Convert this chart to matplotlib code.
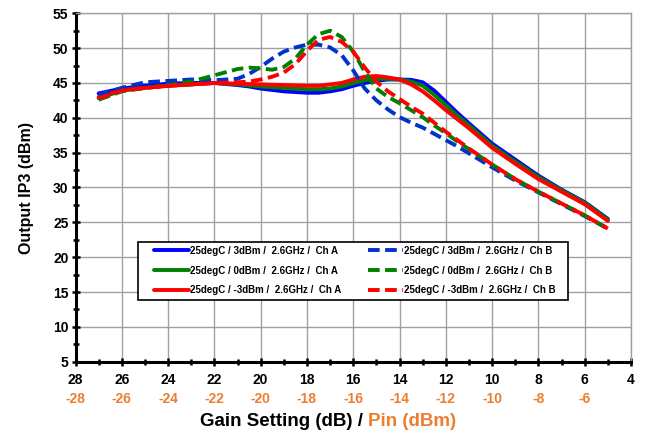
import numpy as np
import matplotlib
matplotlib.use("Agg")
import matplotlib.pyplot as plt
from matplotlib.ticker import MultipleLocator
from matplotlib.patches import Rectangle

plt.rcParams['font.family'] = ['Liberation Sans', 'DejaVu Sans']
plt.rcParams['font.weight'] = 'bold'

# Gain setting (dB)
gain = [27, 26, 25, 24, 23, 22, 21, 20.5, 20, 19.5, 19, 18.5, 18, 17.5, 17, 16.5,
        16, 15.5, 15, 14.5, 14, 13.5, 13, 12.5, 12, 11.5, 11, 10, 9, 8, 7, 6, 5]

# Channel A (solid)
a_3dbm = [43.5, 44.2, 44.6, 44.9, 45.0, 45.0, 44.7, 44.5, 44.2, 44.0, 43.8, 43.7, 43.6, 43.6, 43.8, 44.1,
          44.6, 45.0, 45.3, 45.5, 45.5, 45.45, 45.1, 43.9, 42.3, 40.7, 39.2, 36.3, 34.0, 31.7, 29.7, 27.9, 25.5]
a_0dbm = [42.8, 43.9, 44.3, 44.6, 44.8, 45.0, 44.8, 44.65, 44.5, 44.4, 44.3, 44.2, 44.1, 44.1, 44.2, 44.5,
          45.0, 45.4, 45.6, 45.6, 45.5, 45.2, 44.6, 43.3, 41.8, 40.3, 38.9, 36.0, 33.7, 31.5, 29.6, 27.8, 25.4]
a_m3dbm = [43.0, 44.0, 44.3, 44.6, 44.8, 45.0, 44.9, 44.85, 44.8, 44.75, 44.7, 44.65, 44.6, 44.6, 44.8, 45.0,
           45.5, 45.9, 46.0, 45.8, 45.5, 44.8, 43.8, 42.5, 41.1, 39.8, 38.5, 35.7, 33.4, 31.2, 29.4, 27.6, 25.2]

# Channel B (dashed)
b_3dbm = [43.3, 44.3, 45.1, 45.3, 45.5, 45.4, 45.6, 46.3, 47.3, 48.5, 49.5, 50.1, 50.5, 50.5, 50.1, 49.0,
          46.8, 44.2, 42.5, 41.2, 40.1, 39.3, 38.6, 37.7, 36.8, 35.9, 34.9, 32.9, 31.0, 29.3, 27.6, 25.9, 24.1]
b_0dbm = [42.6, 43.8, 44.3, 44.7, 45.2, 46.1, 47.0, 47.2, 47.1, 46.9, 47.3, 48.5, 50.5, 52.0, 52.5, 51.6,
          49.5, 46.6, 44.2, 43.0, 42.1, 41.1, 40.1, 38.9, 37.8, 36.6, 35.5, 33.3, 31.2, 29.4, 27.7, 26.0, 24.1]
b_m3dbm = [42.8, 43.9, 44.3, 44.6, 44.8, 45.0, 45.1, 45.2, 45.5, 45.9, 46.5, 47.7, 49.6, 51.2, 51.6, 50.9,
           49.5, 47.2, 45.2, 43.8, 42.7, 41.6, 40.6, 39.3, 38.0, 36.8, 35.6, 33.3, 31.2, 29.4, 27.7, 26.0, 24.1]

labels_a = ['25degC / 3dBm /  2.6GHz /  Ch A', '25degC / 0dBm /  2.6GHz /  Ch A', '25degC / -3dBm /  2.6GHz /  Ch A']
labels_b = ['25degC / 3dBm /  2.6GHz /  Ch B', '25degC / 0dBm /  2.6GHz /  Ch B', '25degC / -3dBm /  2.6GHz /  Ch B']

gain_ticks = [28, 26, 24, 22, 20, 18, 16, 14, 12, 10, 8, 6, 4]
pin_labels = ['-28', '-26', '-24', '-22', '-20', '-18', '-16', '-14', '-12', '-10', '-8', '-6', '']

orange = '#ED7D31'
colors = ['#0000FF', '#008000', '#FF0000']
colors_b = ['#0033CC', '#008000', '#FF0000']

fig = plt.figure(figsize=(6.46, 4.34), dpi=100)
ax = fig.add_axes([75.5 / 646, 1 - 361.7 / 434, 555.5 / 646, 348.4 / 434])

handles_a = []
for ys, c, lab in zip([a_3dbm, a_0dbm, a_m3dbm], colors, labels_a):
    h, = ax.plot(gain, ys, color=c, lw=2.8, solid_capstyle='round', solid_joinstyle='round',
                 label=lab, zorder=3)
    handles_a.append(h)
handles_b = []
for ys, c, lab in zip([b_3dbm, b_0dbm, b_m3dbm], colors_b, labels_b):
    h, = ax.plot(gain, ys, color=c, lw=2.8, ls=(0, (3.0, 1.4)), label=lab, zorder=3)
    handles_b.append(h)

ax.set_xlim(28, 4)
ax.set_ylim(5, 55)
ax.xaxis.set_minor_locator(MultipleLocator(1))
ax.yaxis.set_major_locator(MultipleLocator(5))
ax.yaxis.set_minor_locator(MultipleLocator(2.5))
ax.set_xticks(gain_ticks)
ax.set_xticklabels([str(t) for t in gain_ticks])
ax.grid(which='major', color='#A0A0A0', lw=1.0, zorder=0)

for side in ['top', 'right']:
    ax.spines[side].set_color('#A0A0A0')
    ax.spines[side].set_linewidth(1.0)
for side in ['left', 'bottom']:
    ax.spines[side].set_color('black')
    ax.spines[side].set_linewidth(2.2)

ax.tick_params(which='major', direction='inout', length=6, width=1.8, labelsize=10, pad=2)
ax.tick_params(which='minor', direction='inout', length=5, width=1.8)
ax.tick_params(axis='x', pad=5)

sec = ax.secondary_xaxis('bottom')
sec.set_xticks(gain_ticks)
sec.set_xticklabels(pin_labels)
sec.tick_params(length=0, pad=22, labelsize=10, labelcolor=orange)
sec.spines['bottom'].set_visible(False)
for t in sec.get_xticklabels():
    t.set_fontweight('bold')
for t in ax.get_xticklabels() + ax.get_yticklabels():
    t.set_fontweight('bold')

ax.set_ylabel('Output IP3 (dBm)', fontsize=11.5, fontweight='bold')
ax.yaxis.set_label_coords(-0.074, 0.5)

fig.text(362.5 / 646, 1 - 421.5 / 434, 'Gain Setting (dB) /', ha='right', va='center',
         fontsize=13.5, fontweight='bold', color='black')
fig.text(367.5 / 646, 1 - 421.5 / 434, 'Pin (dBm)', ha='left', va='center',
         fontsize=13.5, fontweight='bold', color=orange)

# legend box drawn separately so the inner margins match
box = Rectangle((62.5 / 555.5, (361.7 - 299.5) / 348.4), 430 / 555.5, 58 / 348.4,
                transform=ax.transAxes, facecolor='white', edgecolor='black', lw=1.2, zorder=4)
ax.add_patch(box)
leg = ax.legend(handles_a + handles_b, labels_a + labels_b, ncol=2, loc='center',
                bbox_to_anchor=(76.5 / 555.5, (361.7 - 299.5) / 348.4, 406 / 555.5, 58 / 348.4),
                mode='expand', prop={'size': 7, 'weight': 'bold'}, frameon=False,
                handlelength=3.6, handletextpad=0.15, labelspacing=1.0, borderpad=0.2,
                columnspacing=1.0, borderaxespad=0)
leg.set_zorder(5)

fig.savefig('out.png', dpi=100)
